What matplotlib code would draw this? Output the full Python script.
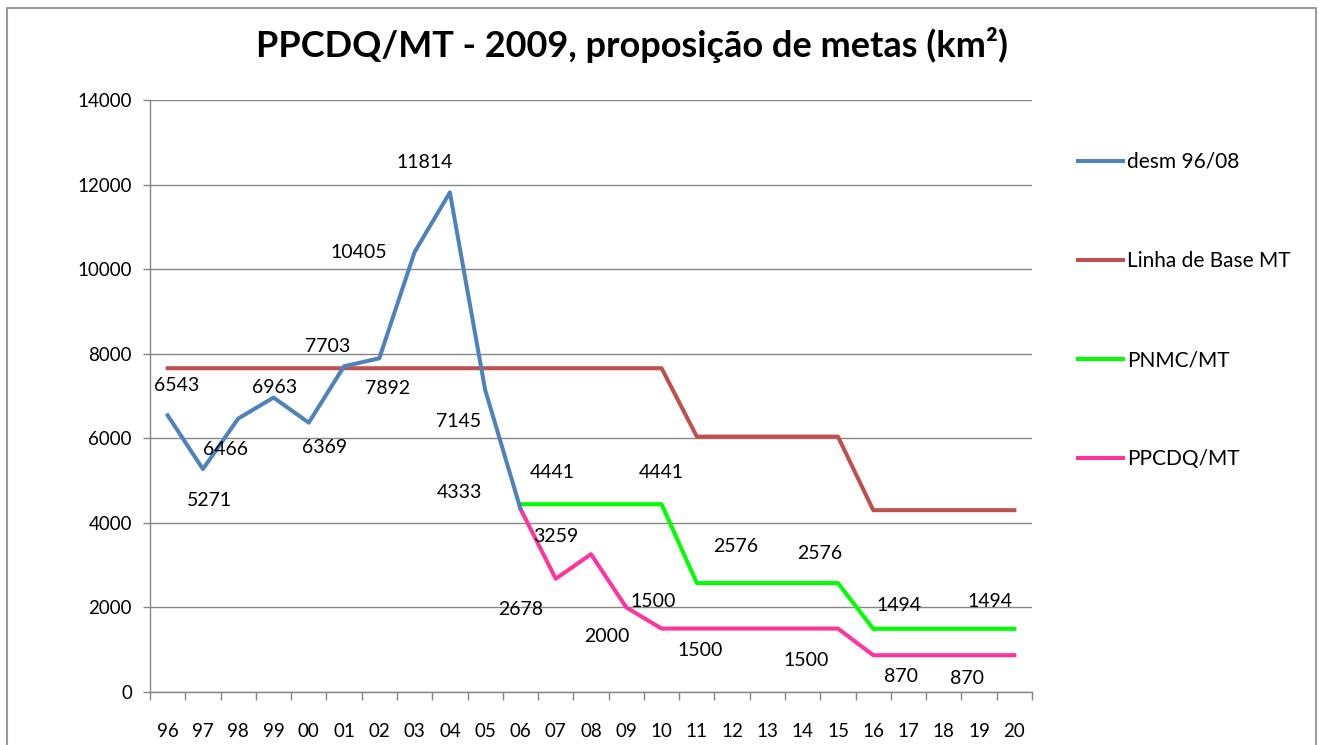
import matplotlib
matplotlib.use("Agg")
import matplotlib.pyplot as plt
import numpy as np

plt.rcParams['font.family'] = ['Lato', 'DejaVu Sans']

# categories (years)
anos = ['96', '97', '98', '99', '00', '01', '02', '03', '04', '05', '06', '07',
        '08', '09', '10', '11', '12', '13', '14', '15', '16', '17', '18', '19', '20']

desm = [6543, 5271, 6466, 6963, 6369, 7703, 7892, 10405, 11814, 7145, 4333]
linha_base = [7657] * 15 + [6040] * 5 + [4300] * 5
pnmc = [4441] * 5 + [2576] * 5 + [1494] * 5          # from 06
ppcdq = [4333, 2678, 3259, 2000, 1500, 1500, 1500, 1500, 1500, 1500,
         870, 870, 870, 870, 870]                     # from 06

x = np.arange(len(anos))
x_desm = x[:len(desm)]
x_meta = x[10:10 + len(pnmc)]

fig = plt.figure(figsize=(13.19, 7.45), dpi=100)
W, H = 1319, 745
ax = fig.add_axes([150 / W, 53 / H, 882 / W, 592 / H])

c_blue, c_red, c_green, c_pink = '#4F81BD', '#C0504D', '#00FF00', '#FF3399'
lw = 2.9
ax.plot(x, linha_base, color=c_red, lw=lw, label='Linha de Base MT', zorder=3)
ax.plot(x_meta, pnmc, color=c_green, lw=lw, label='PNMC/MT', zorder=4)
ax.plot(x_meta, ppcdq, color=c_pink, lw=lw, label='PPCDQ/MT', zorder=4)
ax.plot(x_desm, desm, color=c_blue, lw=lw, label='desm 96/08', zorder=5)

# data labels: (series x, series y, index, offset in pixels)
lab_fs = 14
def rot(xs, ys, idx, dx, dy):
    ax.annotate(str(ys[idx]), (xs[idx], ys[idx]), xytext=(dx, dy),
                textcoords='offset pixels', ha='center', va='center',
                fontsize=lab_fs, color='black', zorder=6)

off_desm = [(9, 30), (7, -31), (-13, -31), (1, 10), (16, -25), (-16, 20),
            (8, -30), (-56, 0), (-25, 30), (-27, -32), (-61, 16)]
for i, (dx, dy) in enumerate(off_desm):
    rot(x_desm, desm, i, dx, dy)

for i, (dx, dy) in {1: (-3, 32), 4: (0, 32), 6: (4, 37), 8: (17, 30),
                    11: (-10, 23), 13: (11, 27)}.items():
    rot(x_meta, pnmc, i, dx, dy)

for i, (dx, dy) in {1: (-35, -31), 2: (-35, 18), 3: (-19, -29), 4: (-8, 27),
                    5: (3, -22), 8: (3, -32), 11: (-8, -21), 13: (-12, -23)}.items():
    rot(x_meta, ppcdq, i, dx, dy)

# axes
ax.set_xlim(-0.5, len(anos) - 0.5)
ax.set_ylim(0, 14000)
ax.set_yticks(np.arange(0, 14001, 2000))
ax.yaxis.grid(True, color='#868686', lw=1)
ax.set_axisbelow(True)
ax.set_xticks(np.arange(-0.5, len(anos), 1))
ax.set_xticklabels([])
ax.set_xticks(x, minor=True)
ax.set_xticklabels(anos, minor=True)
ax.tick_params(axis='x', which='major', length=6, color='#868686', width=1)
ax.tick_params(axis='x', which='minor', length=0, pad=22, labelsize=13.5)
ax.tick_params(axis='y', length=5, color='#868686', width=1, pad=8, labelsize=13.5)
for s in ['top', 'right']:
    ax.spines[s].set_visible(False)
for s in ['left', 'bottom']:
    ax.spines[s].set_color('#868686')
    ax.spines[s].set_linewidth(1)

fig.text(632 / W, 1 - 45 / H, 'PPCDQ/MT - 2009, proposição de metas (km²)',
         ha='center', va='center', fontsize=26, fontweight='bold')

handles, labels = ax.get_legend_handles_labels()
order = [3, 0, 1, 2]
ax.legend([handles[i] for i in order], [labels[i] for i in order],
          loc='upper left', bbox_to_anchor=(1078 / W, 1 - 152 / H),
          bbox_transform=fig.transFigure, frameon=False, fontsize=15,
          handlelength=2.16, handletextpad=0.2, labelspacing=3.8,
          borderaxespad=0, borderpad=0)

# outer chart border
fig.add_artist(plt.Line2D([7 / W, 7 / W, 1316 / W, 1316 / W],
                          [0, 1 - 8 / H, 1 - 8 / H, 0],
                          transform=fig.transFigure, color='#9a9a9a', lw=1.5))

fig.savefig('out.png', dpi=100)
